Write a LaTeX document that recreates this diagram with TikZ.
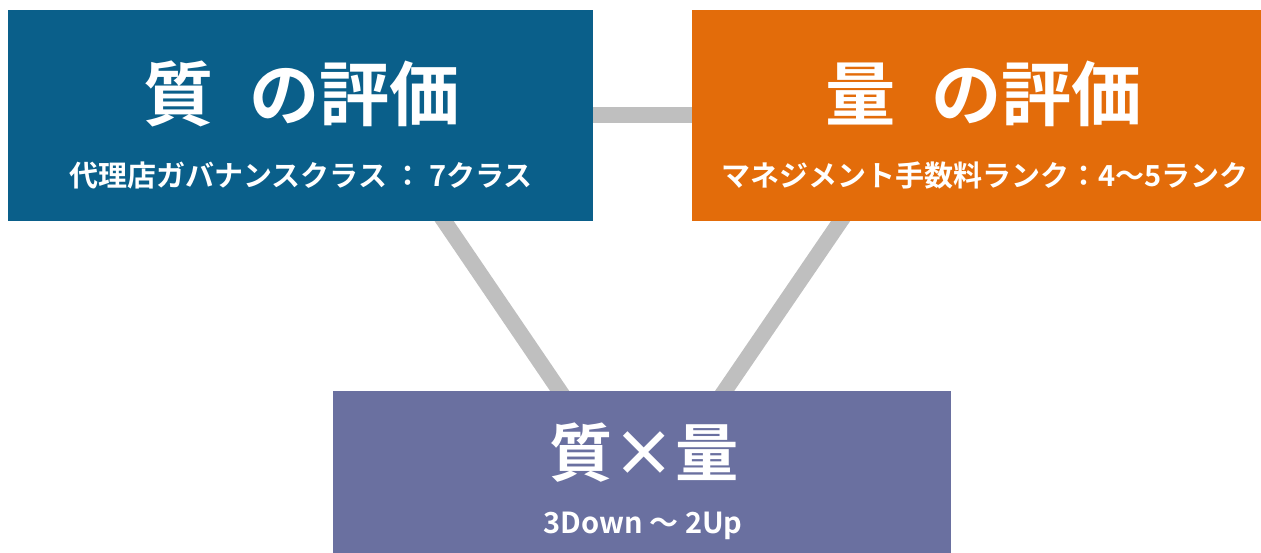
\documentclass[tikz,border=0pt]{standalone}
\usepackage{fontspec}
\usepackage{xcolor}
\newfontfamily\jpfont{Noto Sans CJK JP}[BoldFont={* Bold}]
\definecolor{bleu_qual}{HTML}{0A5F8A}
\definecolor{orange_quant}{HTML}{E36C0A}
\definecolor{violet_mix}{HTML}{6A70A0}
\definecolor{gris_lien}{HTML}{BFBFBF}

\begin{document}
\begin{tikzpicture}[x=0.02cm,y=-0.02cm,
        boite/.style={rectangle, inner sep=0pt, anchor=north west},
        titre/.style={text=white, inner sep=0pt, font=\jpfont\bfseries\fontsize{40}{44}\selectfont},
        titremix/.style={titre, font=\jpfont\bfseries\fontsize{36}{40}\selectfont},
        soustitre/.style={text=white, inner sep=0pt, font=\jpfont\bfseries\fontsize{16.5}{20}\selectfont},
        lien/.style={line width=9pt, gris_lien}]
        % Cadre
        \useasboundingbox (0,0) rectangle (1261,553);

        % Sommets du triangle
        \coordinate (Tqual) at (372,115);
        \coordinate (Tquant) at (913,115);
        \coordinate (Tmix) at (642,512);
        % Liens gris
        \draw[lien] (Tqual) -- (Tquant);
        \draw[lien] (Tqual) -- (Tmix);
        \draw[lien] (Tquant) -- (Tmix);

        % Boite qualite
        \node[boite, fill=bleu_qual, minimum width=11.7cm, minimum height=4.22cm] (qual) at (8,10) {};
        \node[titre] (qualT) at (302,94) {質\hspace{0.5em}の評価};
        \node[soustitre] (qualS) at (301,176) {代理店ガバナンスクラス ： 7クラス};

        % Boite quantite
        \node[boite, fill=orange_quant, minimum width=11.72cm, minimum height=4.22cm] (quant) at (692,10) {};
        \node[titre] (quantT) at (984,94) {量\hspace{0.5em}の評価};
        \node[soustitre] (quantS) at (985,176) {マネジメント手数料ランク：4～5ランク};

        % Boite qualite x quantite
        \node[boite, fill=violet_mix, minimum width=12.36cm, minimum height=3.4cm] (mix) at (333,391) {};
        \node[titremix] (mixT) at (644,453) {質×量};
        \node[soustitre] (mixS) at (643,526) {3Down ～ 2Up};
\end{tikzpicture}
\end{document}
